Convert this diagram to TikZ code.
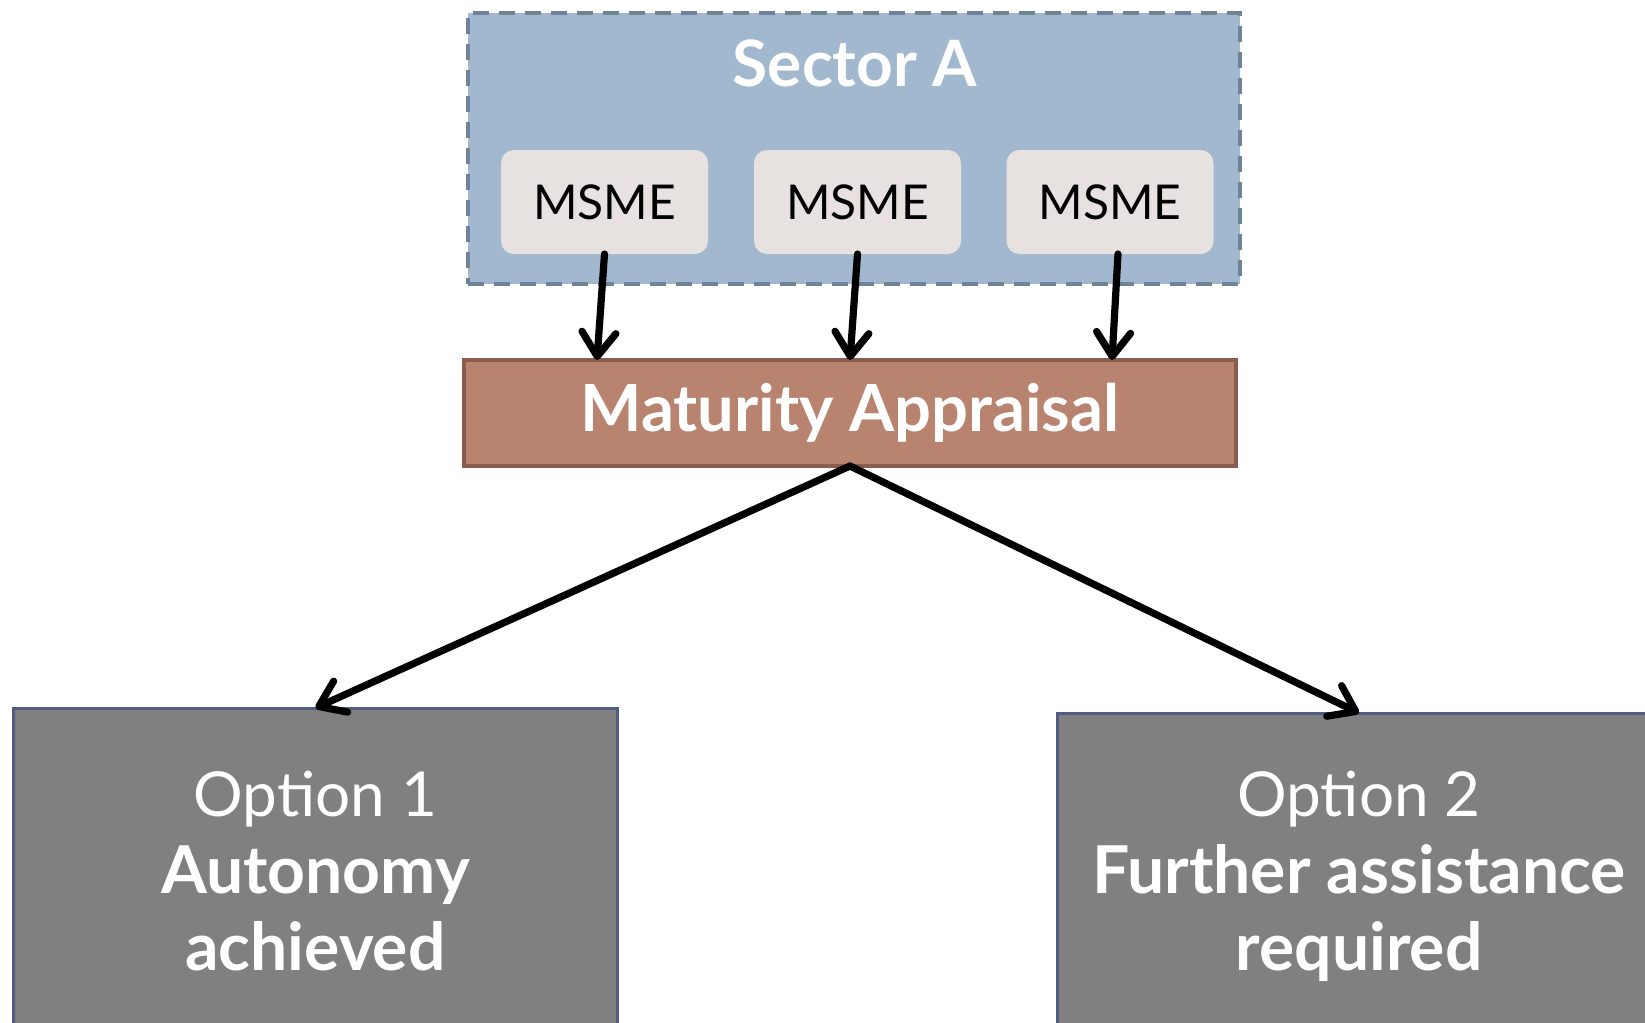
\documentclass[tikz,border=0pt]{standalone}
\usepackage{fontspec}
\setmainfont{Lato}
\usepackage{xcolor}
\usetikzlibrary{arrows.meta}
\definecolor{sectorfill}{HTML}{A1B8CE}
\definecolor{sectorline}{HTML}{6F8396}
\definecolor{msmefill}{HTML}{E7E2DF}
\definecolor{matfill}{HTML}{B8836F}
\definecolor{matline}{HTML}{8B5D4E}
\definecolor{optfill}{HTML}{808080}
\definecolor{optline}{HTML}{515C82}
\newcommand{\optbold}[1]{{\fontsize{33}{38.5}\selectfont\bfseries #1}}

\begin{document}
\begin{tikzpicture}[x=0.5pt,y=-0.5pt]
        \tikzstyle{every node}+=[inner sep=0pt,outer sep=0pt]
        \tikzstyle{sectorbox}=[draw=sectorline,fill=sectorfill,line width=2pt,dash pattern=on 8pt off 5pt,minimum width=386pt,minimum height=135.5pt]
        \tikzstyle{msmebox}=[fill=msmefill,rounded corners=6.5pt,minimum width=103.5pt,minimum height=52pt,font=\fontsize{24}{28}\selectfont]
        \tikzstyle{matbox}=[draw=matline,fill=matfill,line width=2pt,minimum width=386pt,minimum height=53pt,text=white,font=\fontsize{32.5}{36}\selectfont\bfseries]
        \tikzstyle{optbox}=[draw=optline,fill=optfill,line width=1.5pt,minimum width=302pt,minimum height=163pt,text=white,align=center,font=\fontsize{31}{38.5}\selectfont]
        \tikzstyle{arr}=[draw=black,line width=3.6pt,line cap=round,-{Straight Barb[round,length=12pt,width=17pt]}]
        \clip (0,0) rectangle (1645,1023);
        \fill [white] (0,0) rectangle (1645,1023);
        \node [sectorbox] (sector) at (854,148.5) {};
        \node [text=white,font=\fontsize{32}{36}\selectfont\bfseries] (title) at (855,63) {Sector A};
        \node [msmebox] (m1) at (604.5,202) {MSME};
        \node [msmebox] (m2) at (857.5,202) {MSME};
        \node [msmebox] (m3) at (1110,202) {MSME};
        \node [matbox] (mat) at (850,413) {Maturity Appraisal};
        \node [optbox] (opt1) at (315.5,871) {Option 1\\\optbold{Autonomy}\\\optbold{achieved}};
        \node [optbox] (opt2) at (1359,876) {Option 2\\\optbold{Further assistance}\\\optbold{required}};
        \draw [arr] (m1.south) -- ([xshift=-3.75pt]m1.south |- mat.north);
        \draw [arr] (m2.south) -- ([xshift=-3.75pt]m2.south |- mat.north);
        \draw [arr] ([xshift=4pt]m3.south) -- ([xshift=1pt]m3.south |- mat.north);
        \draw [arr] (mat.south) -- (opt1.north);
        \draw [arr] (mat.south) -- (opt2.north);
\end{tikzpicture}
\end{document}
